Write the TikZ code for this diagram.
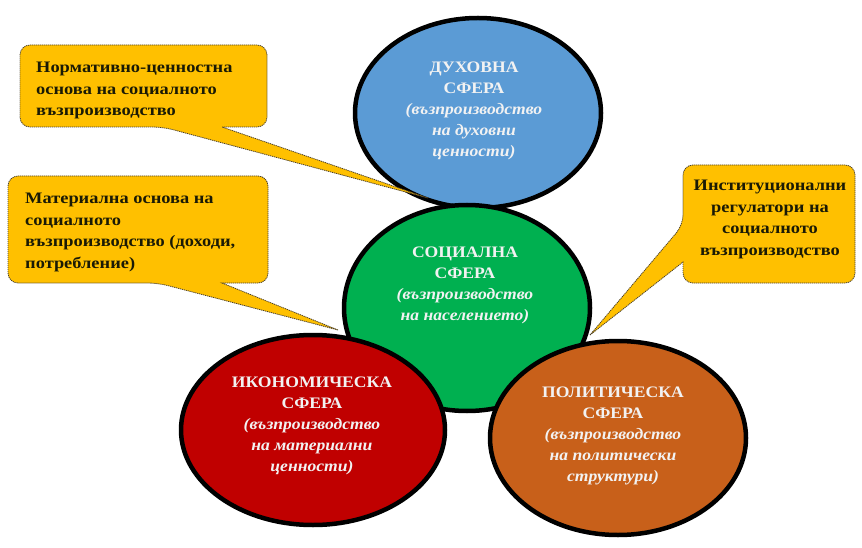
\documentclass[tikz,border=0pt]{standalone}
\usepackage{fontspec}
\setmainfont{Liberation Serif}
\newfontfamily\spherefont{Liberation Serif}[FakeStretch=1.1]
\newfontfamily\calloutfont{Liberation Serif}[FakeStretch=1.15]
\usetikzlibrary{shapes.geometric}
\definecolor{cblue}{HTML}{5B9BD5}
\definecolor{cgreen}{HTML}{00B050}
\definecolor{cred}{HTML}{C00000}
\definecolor{corange}{HTML}{C8601A}
\definecolor{cgold}{HTML}{FFC000}
\definecolor{ctext}{HTML}{1A1A05}
\definecolor{cdash}{HTML}{4A3F2A}
\begin{document}
\begin{tikzpicture}[x=1pt,y=-1pt,
  sphere/.style={ellipse,draw=black,line width=4.5pt,inner sep=0pt},
  spheretext/.style={anchor=north,inner sep=0pt,align=center,text=white!95!black,
    font=\spherefont\fontsize{16}{21}\selectfont\bfseries},
  callout/.style={fill=cgold,draw=cdash,line width=0.8pt,dash pattern=on 1.2pt off 0.8pt},
  callouttext/.style={inner sep=0pt,text=ctext,font=\calloutfont\fontsize{16}{21.5}\selectfont\bfseries}]
\useasboundingbox (0,0) rectangle (862,548);
% spheres
\node[sphere,fill=cblue,minimum width=246pt,minimum height=190pt] (blue) at (478,113) {};
\node[sphere,fill=cgreen,minimum width=246pt,minimum height=206pt] (green) at (467,308) {};
\node[sphere,fill=cred,minimum width=264pt,minimum height=190pt] (red) at (313,430) {};
\node[sphere,fill=corange,minimum width=256pt,minimum height=194pt] (orange) at (618,438) {};
% sphere labels
\node[spheretext] (tblue) at (474,62) {ДУХОВНА\\СФЕРА\\{\itshape (възпроизводство}\\{\itshape на духовни}\\{\itshape ценности)}};
\node[spheretext] (tgreen) at (465,247) {СОЦИАЛНА\\СФЕРА\\{\itshape (възпроизводство}\\{\itshape на населението)}};
\node[spheretext] (tred) at (312,377) {ИКОНОМИЧЕСКА\\СФЕРА\\{\itshape (възпроизводство}\\{\itshape на материални}\\{\itshape ценности)}};
\node[spheretext] (torange) at (613,387) {ПОЛИТИЧЕСКА\\СФЕРА\\{\itshape (възпроизводство}\\{\itshape на политически}\\{\itshape структури)}};
% callouts
\coordinate (tip1) at (428,198);
\coordinate (tip2) at (338,330);
\coordinate (tip3) at (590,335);
\draw[callout] (tip1) -- (222,127) [rounded corners=10pt] -- (267,127) -- (267,45) -- (20,45) -- (20,127) -- (163,127) [sharp corners] -- cycle;
\draw[callout] (tip2) -- (222,283) [rounded corners=10pt] -- (268,283) -- (268,176) -- (8,176) -- (8,283) -- (158,283) [sharp corners] -- cycle;
\draw[callout] (tip3) -- (683,262) [rounded corners=10pt] -- (683,283) -- (855,283) -- (855,165) -- (683,165) -- (683,225) [sharp corners] -- cycle;
\node[callouttext,anchor=north west,align=left] (c1) at (36,62) {Нормативно-ценностна\\основа на социалното\\възпроизводство};
\node[callouttext,anchor=north west,align=left] (c2) at (25,193) {Материална основа на\\социалното\\възпроизводство (доходи,\\потребление)};
\node[callouttext,anchor=north,align=center] (c3) at (770,180) {Институционални\\регулатори на\\социалното\\възпроизводство};
\end{tikzpicture}
\end{document}
